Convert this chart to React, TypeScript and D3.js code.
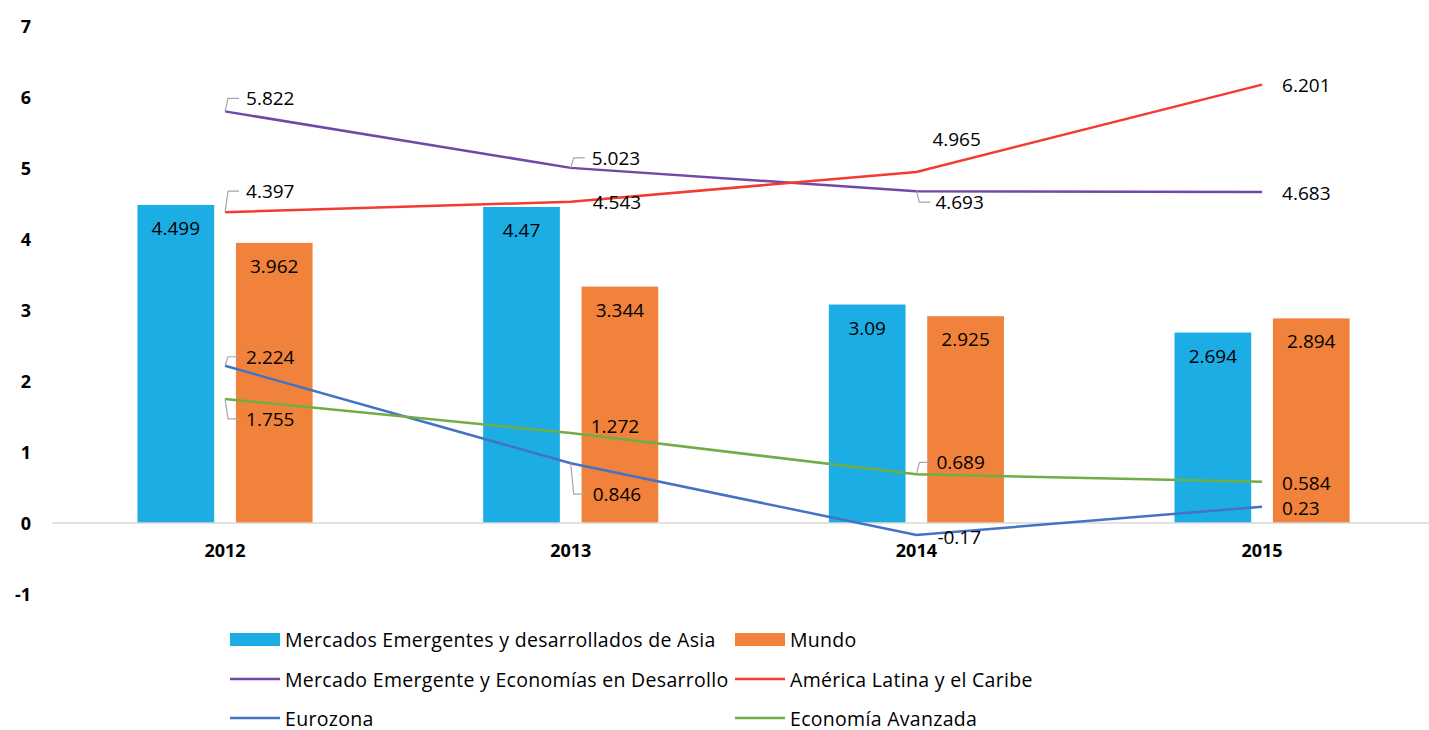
import React from "react";
import * as d3 from "d3";

const years = ["2012", "2013", "2014", "2015"];
const asia = [4.499, 4.47, 3.09, 2.694];
const mundo = [3.962, 3.344, 2.925, 2.894];
const emergentes = [5.822, 5.023, 4.693, 4.683];
const latam = [4.397, 4.543, 4.965, 6.201];
const eurozona = [2.224, 0.846, -0.17, 0.23];
const avanzada = [1.755, 1.272, 0.689, 0.584];
const yTicks = [-1, 0, 1, 2, 3, 4, 5, 6, 7];

const W = 1429;
const H = 730;
const FONT = "'Open Sans', 'Liberation Sans', sans-serif";

const x = d3.scaleBand<string>().domain(years).range([52.2, 1434.9]).padding(0);
const y = d3.scaleLinear().domain([-1, 7]).range([593.7, 28.1]);
const yLab = d3.scaleLinear().domain([-1, 7]).range([594, 26]);
const cx = (yr: string) => (x(yr) as number) + x.bandwidth() / 2;

const BAR_W = 76.7;
const HALF_GAP = 10.85;

// label layout: [dx, dy, leader]
type Lab = [number, number, boolean];
const lines = [
  { name: "Mercado Emergente y Economías en Desarrollo", color: "#7048A6", values: emergentes,
    labs: [[21, -13, true], [21, -10, true], [19, 11, true], [20, 1, false]] as Lab[] },
  { name: "América Latina y el Caribe", color: "#F23B32", values: latam,
    labs: [[21, -21, true], [22, 0, false], [16, -33, false], [20, 0, false]] as Lab[] },
  { name: "Eurozona", color: "#4472C4", values: eurozona,
    labs: [[21, -9, true], [22, 31, true], [21, 2, false], [20, 1, false]] as Lab[] },
  { name: "Economía Avanzada", color: "#70AD47", values: avanzada,
    labs: [[21, 20, true], [20, -7, false], [20, -12, true], [20, 1, false]] as Lab[] },
];

const BLUE = "#1CADE4";
const ORANGE = "#F1823B";

export default function App() {
  const lineGen = d3
    .line<number>()
    .x((_, i) => cx(years[i]))
    .y((v) => y(v));

  return (
    <svg width={W} height={H} style={{ position: "absolute", left: 0, top: 0, background: "#fff" }}
      fontFamily={FONT}>
      {/* y tick labels */}
      {yTicks.map((t) => (
        <text key={t} x={31} y={yLab(t)} textAnchor="end" dominantBaseline="central"
          fontSize={18} fontWeight="bold" fill="#000">{t}</text>
      ))}
      {/* bars */}
      {years.map((yr, i) => {
        const c = cx(yr);
        return (
          <g key={yr}>
            <rect x={c - HALF_GAP - BAR_W} y={y(asia[i])} width={BAR_W} height={y(0) - y(asia[i])} fill={BLUE} />
            <rect x={c + HALF_GAP} y={y(mundo[i])} width={BAR_W} height={y(0) - y(mundo[i])} fill={ORANGE} />
          </g>
        );
      })}
      {/* zero axis */}
      <line x1={52.2} x2={W} y1={y(0)} y2={y(0)} stroke="#D9D9D9" strokeWidth={1.5} />
      {/* category labels */}
      {years.map((yr) => (
        <text key={yr} x={cx(yr)} y={550} textAnchor="middle" dominantBaseline="central"
          fontSize={18} fontWeight="bold" fill="#000">{yr}</text>
      ))}
      {/* lines */}
      {lines.map((s) => (
        <path key={s.name} d={lineGen(s.values) || ""} fill="none" stroke={s.color} strokeWidth={2.5} />
      ))}
      {/* bar labels */}
      {years.map((yr, i) => {
        const c = cx(yr);
        return (
          <g key={yr + "l"}>
            <text x={c - HALF_GAP - BAR_W / 2} y={y(asia[i]) + 23} textAnchor="middle" dominantBaseline="central"
              fontSize={19} fill="#000">{asia[i]}</text>
            <text x={c + HALF_GAP + BAR_W / 2} y={y(mundo[i]) + 23} textAnchor="middle" dominantBaseline="central"
              fontSize={19} fill="#000">{mundo[i]}</text>
          </g>
        );
      })}
      {/* line labels */}
      {lines.map((s) =>
        s.values.map((v, i) => {
          const px = cx(years[i]);
          const py = y(v);
          const [dx, dy, leader] = s.labs[i];
          const ty = py + dy;
          return (
            <g key={s.name + i}>
              {leader && (
                <polyline points={`${px},${py} ${px + 3},${ty} ${px + 14},${ty}`} fill="none"
                  stroke="#A6A6A6" strokeWidth={1.2} />
              )}
              <text x={px + dx} y={ty} dominantBaseline="central" fontSize={19} fill="#000">{v}</text>
            </g>
          );
        })
      )}
      {/* legend */}
      <g fontSize={19.5} letterSpacing={0.3} fill="#000">
        <rect x={230} y={633} width={50} height={13} fill={BLUE} />
        <text x={285} y={639} dominantBaseline="central">Mercados Emergentes y desarrollados de Asia</text>
        <rect x={735} y={633} width={50} height={13} fill={ORANGE} />
        <text x={790} y={639} dominantBaseline="central">Mundo</text>
        {lines.map((s, i) => {
          const col = i % 2;
          const row = Math.floor(i / 2);
          const lx = col === 0 ? 230 : 735;
          const ly = 679 + row * 39;
          return (
            <g key={s.name + "leg"}>
              <line x1={lx} x2={lx + 50} y1={ly} y2={ly} stroke={s.color} strokeWidth={2.5} />
              <text x={lx + 55} y={ly} dominantBaseline="central">{s.name}</text>
            </g>
          );
        })}
      </g>
    </svg>
  );
}
